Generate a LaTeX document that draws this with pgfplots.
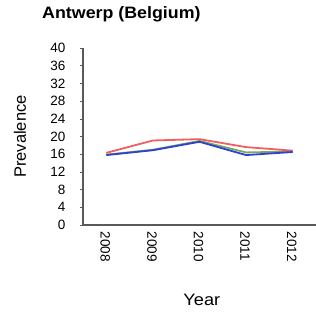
\documentclass[border=0pt]{standalone}
\usepackage{pgfplots}
\pgfplotsset{compat=1.18}
\usepackage{fontspec}
\setmainfont{Liberation Sans}
\definecolor{lred}{RGB}{240,95,95}
\definecolor{lblue}{RGB}{45,65,215}
\definecolor{lgreen}{RGB}{120,170,90}
\definecolor{axgray}{RGB}{90,90,90}
\begin{document}
\begin{tikzpicture}
\path[use as bounding box] (0,0) rectangle (316bp,313bp);
\begin{axis}[
  at={(83bp,88bp)}, anchor=south west,
  scale only axis, width=233bp, height=177bp,
  xmin=-0.5, xmax=4.5, ymin=0, ymax=40,
  /pgf/number format/assume math mode=true,
  axis lines*=left,
  axis line style={axgray, line width=1.2bp},
  xtick={0,1,2,3,4},
  xticklabels={2008,2009,2010,2011,2012},
  major x tick style={draw=none},
  extra x ticks={-0.5,0.5,1.5,2.5,3.5},
  extra x tick labels={},
  extra x tick style={major tick length=8bp, tick style={axgray, line width=0.8bp}},
  ytick={0,4,...,40},
  tick align=outside,
  major tick length=3bp,
  ytick style={axgray, line width=0.6bp},
  tick label style={font=\fontsize{13.5bp}{15bp}\selectfont},
  xticklabel style={rotate=-90, anchor=west, yshift=-1bp},
  yticklabel style={xshift=-11bp},
  title={\scalebox{1.08}[1]{\fontsize{16.5bp}{18bp}\selectfont\bfseries Antwerp (Belgium)}},
  title style={at={(0,1)}, anchor=base west, xshift=-41bp, yshift=24bp, inner sep=0pt},
  ylabel={Prevalence},
  ylabel style={at={(axis description cs:-0.27,0.5)}, anchor=center, font=\fontsize{16.5bp}{18bp}\selectfont},
  xlabel={\scalebox{1.1}[1]{Year}},
  xlabel style={at={(axis description cs:0.51,0)}, anchor=center, yshift=-75bp, font=\fontsize{16.5bp}{18bp}\selectfont},
  clip=false,
]
\addplot[lgreen, line width=1.8bp] coordinates {(0,15.9) (1,17.0) (2,19.0) (3,16.4) (4,16.6)};
\addplot[lred, line width=1.8bp] coordinates {(0,16.3) (1,19.1) (2,19.4) (3,17.6) (4,16.8)};
\addplot[lblue, line width=1.8bp] coordinates {(0,15.8) (1,16.9) (2,18.8) (3,15.8) (4,16.5)};
\end{axis}
\end{tikzpicture}
\end{document}
